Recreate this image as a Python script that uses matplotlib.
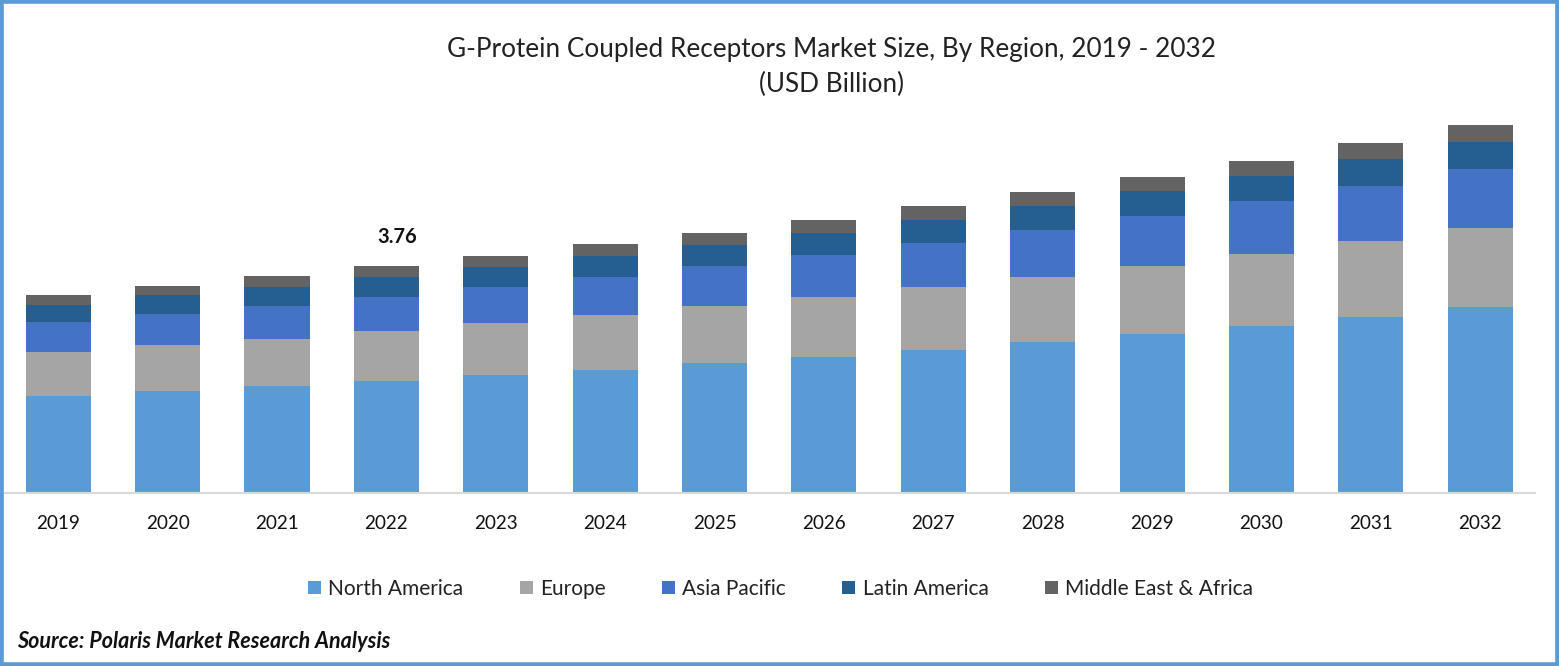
#!/usr/bin/env python3
"""G-protein coupled receptors market size -- stacked bars by region."""

import matplotlib
matplotlib.use("Agg")
import matplotlib.pyplot as plt
from matplotlib.patches import Rectangle

YEARS = [2019, 2020, 2021, 2022, 2023, 2024, 2025, 2026, 2027, 2028, 2029, 2030, 2031, 2032]

# Values in USD billion
NORTH_AMERICA = [1.60, 1.68, 1.76, 1.85, 1.95, 2.03, 2.15, 2.25, 2.36, 2.50, 2.63, 2.76, 2.91, 3.08]
EUROPE = [0.73, 0.77, 0.78, 0.83, 0.87, 0.92, 0.95, 1.00, 1.05, 1.08, 1.13, 1.20, 1.26, 1.31]
ASIA_PACIFIC = [0.50, 0.52, 0.55, 0.57, 0.59, 0.63, 0.66, 0.70, 0.73, 0.78, 0.83, 0.88, 0.92, 0.98]
LATIN_AMERICA = [0.28, 0.30, 0.32, 0.33, 0.34, 0.35, 0.35, 0.36, 0.38, 0.40, 0.42, 0.42, 0.45, 0.45]
MIDDLE_EAST = [0.17, 0.16, 0.18, 0.18, 0.18, 0.20, 0.20, 0.22, 0.24, 0.23, 0.23, 0.25, 0.27, 0.28]

# Series definitions: (label, values, color)
SERIES = [
    ("North America", NORTH_AMERICA, "#5B9BD5"),
    ("Europe", EUROPE, "#A5A5A5"),
    ("Asia Pacific", ASIA_PACIFIC, "#4472C4"),
    ("Latin America", LATIN_AMERICA, "#255E91"),
    ("Middle East & Africa", MIDDLE_EAST, "#636363"),
]

LABEL_YEAR = 2022
LABEL_VALUE = "3.76"


def generate_plot():
    """Draw the stacked bars, title, legend, source line and frame."""
    plt.rcParams["font.family"] = ["Lato", "DejaVu Sans"]

    fig = plt.figure(figsize=(15.59, 6.66), dpi=100)
    ax = fig.add_axes([3.5 / 1559, 1 - 492 / 666, 1531.5 / 1559, 392 / 666])

    x = list(range(len(YEARS)))
    bottom = [0.0] * len(YEARS)
    for label, values, color in SERIES:
        ax.bar(x, values, width=0.595, bottom=bottom, color=color, label=label)
        bottom = [b + v for b, v in zip(bottom, values)]

    for side in ["top", "left", "right"]:
        ax.spines[side].set_visible(False)
    ax.spines["bottom"].set_color("#D9D9D9")
    ax.spines["bottom"].set_linewidth(1.5)
    ax.spines["bottom"].set_position(("outward", 0.75))  # resets ticks, so keep it before them

    ax.set_xlim(-0.5, len(YEARS) - 0.5)
    ax.set_ylim(0, 392 / 60.1)
    ax.set_xticks(x)
    ax.set_xticklabels(YEARS, fontsize=13.6, color="#111111")
    ax.tick_params(axis="x", length=0, pad=15.5)
    ax.set_yticks([])

    # Only one bar carries a total in the source
    i = YEARS.index(LABEL_YEAR)
    ax.annotate(LABEL_VALUE, (i, bottom[i]), xytext=(8, 13.5), textcoords="offset points",
                ha="center", va="bottom", fontsize=14.5, fontweight="bold", color="#111111")

    fig.text(831 / 1559, 1 - 49 / 666, "G-Protein Coupled Receptors Market Size, By Region, 2019 - 2032",
             ha="center", va="center", fontsize=18.85, color="#222222")
    fig.text(831 / 1559, 1 - 84 / 666, "(USD Billion)",
             ha="center", va="center", fontsize=18.85, color="#222222")

    fig.legend(loc="center", bbox_to_anchor=(780.5 / 1559, 1 - 589 / 666), ncol=5, frameon=False,
               fontsize=15, handlelength=0.63, handleheight=0.63, handletextpad=0.35,
               columnspacing=2.7, labelcolor="#222222")

    fig.text(17 / 1559, 1 - 642 / 666, "Source: Polaris Market Research Analysis",
             ha="left", va="center", fontsize=15.5, fontweight="bold", style="italic", color="#111111")

    # Blue frame around the whole picture
    fig.add_artist(Rectangle((0, 0), 1, 1, transform=fig.transFigure, fill=False,
                             edgecolor="#5B9BD5", linewidth=5.5))

    plt.savefig("out.png", dpi=100)
    plt.close()


def main():
    generate_plot()


if __name__ == "__main__":
    main()
